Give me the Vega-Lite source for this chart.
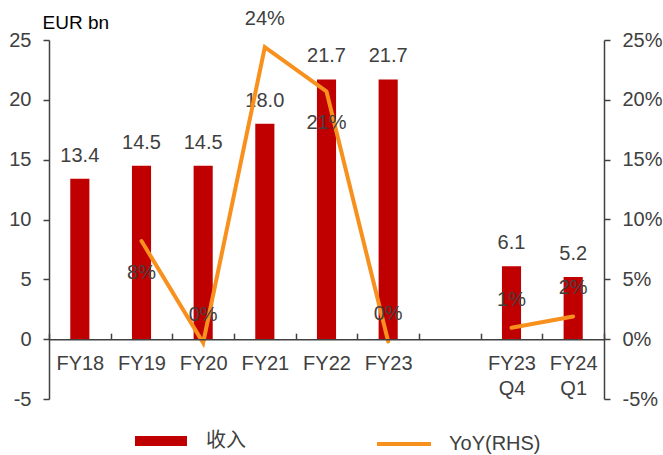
{
  "$schema": "https://vega.github.io/schema/vega-lite/v6.json",
  "width": 555,
  "height": 359,
  "autosize": {"type": "none"},
  "padding": {"left": 49, "top": 40, "right": 59, "bottom": 56},
  "background": "white",
  "config": {
    "view": {"stroke": null},
    "font": "Liberation Sans",
    "axis": {
      "grid": false,
      "labelFont": "Liberation Sans",
      "labelFontSize": 20,
      "labelColor": "#404040",
      "domainColor": "#404040",
      "tickColor": "#404040",
      "domainWidth": 1.5,
      "tickWidth": 1.5,
      "tickSize": 6,
      "labelPadding": 12
    },
    "legend": {"labelFont": "Liberation Sans", "labelFontSize": 20, "labelColor": "#404040", "padding": 0}
  },
  "data": {
    "values": [
      {"cat": "FY18", "value": 13.4, "yoy": null, "yoyLabel": null, "grp": "annual"},
      {"cat": "FY19", "value": 14.5, "yoy": 0.082, "yoyLabel": "8%", "grp": "annual"},
      {"cat": "FY20", "value": 14.5, "yoy": -0.003, "yoyLabel": "0%", "grp": "annual"},
      {"cat": "FY21", "value": 18.0, "yoy": 0.244, "yoyLabel": "24%", "grp": "annual"},
      {"cat": "FY22", "value": 21.7, "yoy": 0.207, "yoyLabel": "21%", "grp": "annual"},
      {"cat": "FY23", "value": 21.7, "yoy": -0.002, "yoyLabel": "0%", "grp": "annual"},
      {"cat": "FY23 Q4", "value": 6.1, "yoy": 0.0095, "yoyLabel": "1%", "grp": "quarter"},
      {"cat": "FY24 Q1", "value": 5.2, "yoy": 0.019, "yoyLabel": "2%", "grp": "quarter"}
    ]
  },
  "encoding": {
    "x": {
      "field": "cat",
      "type": "nominal",
      "sort": null,
      "scale": {
        "type": "band",
        "domain": ["FY18", "FY19", "FY20", "FY21", "FY22", "FY23", " ", "FY23 Q4", "FY24 Q1"],
        "paddingInner": 0,
        "paddingOuter": 0
      },
      "axis": {
        "orient": "top",
        "title": null,
        "offset": -299.17,
        "labelAngle": 0,
        "ticks": true,
        "tickBand": "extent",
        "tickSize": 6,
        "labelPadding": -20,
        "labelBaseline": "top",
        "labelLineHeight": 25,
        "zindex": 1,
        "labelExpr": "split(datum.label, ' ')"
      }
    }
  },
  "layer": [
    {
      "layer": [
        {
          "mark": {"type": "bar", "width": {"band": 0.31}},
          "encoding": {
            "y": {
              "field": "value",
              "type": "quantitative",
              "scale": {"domain": [-5, 25], "nice": false, "zero": false},
              "axis": {
                "values": [-5, 0, 5, 10, 15, 20, 25],
                "labelExpr": "replace(datum.label, '−', '-')",
                "title": "EUR bn",
                "titleAngle": 0,
                "titleAlign": "left",
                "titleBaseline": "middle",
                "titleX": -7,
                "titleY": -18,
                "titleFont": "Liberation Sans",
                "titleFontSize": 19,
                "titleFontWeight": "normal",
                "titleColor": "#000000"
              }
            },
            "fill": {
              "datum": "收入",
              "scale": {"range": ["#C00000"]},
              "legend": {
                "title": null,
                "orient": "none",
                "legendX": 86,
                "legendY": 375,
                "symbolType": "M-1,-0.19H1V0.19H-1Z",
                "symbolSize": 2704,
                "symbolStrokeWidth": 0,
                "labelOffset": 19,
                "labelFont": "Noto Sans CJK SC"
              }
            }
          }
        },
        {
          "mark": {"type": "text", "baseline": "middle", "dy": -23, "fontSize": 20, "color": "#404040", "font": "Liberation Sans"},
          "encoding": {
            "y": {"field": "value", "type": "quantitative"},
            "text": {"field": "value", "type": "quantitative", "format": ".1f"}
          }
        }
      ]
    },
    {
      "transform": [{"filter": "datum.yoy != null"}],
      "layer": [
        {
          "mark": {"type": "line", "strokeWidth": 4, "strokeCap": "round"},
          "encoding": {
            "y": {
              "field": "yoy",
              "type": "quantitative",
              "scale": {"domain": [-0.05, 0.25], "nice": false, "zero": false},
              "axis": {
                "orient": "right",
                "title": null,
                "format": ".0%",
                "labelExpr": "replace(datum.label, '−', '-')",
                "values": [-0.05, 0, 0.05, 0.1, 0.15, 0.2, 0.25]
              }
            },
            "detail": {"field": "grp"},
            "stroke": {
              "datum": "YoY(RHS)",
              "scale": {"range": ["#F8901E"]},
              "legend": {
                "title": null,
                "orient": "none",
                "legendX": 326,
                "legendY": 375,
                "symbolType": "stroke",
                "symbolSize": 2916,
                "symbolStrokeWidth": 4,
                "labelOffset": 16
              }
            }
          }
        },
        {
          "transform": [{"filter": "datum.cat != 'FY19' && datum.cat != 'FY22'"}],
          "mark": {"type": "text", "baseline": "middle", "dy": -28, "fontSize": 20, "color": "#404040", "font": "Liberation Sans"},
          "encoding": {
            "y": {"field": "yoy", "type": "quantitative"},
            "text": {"field": "yoyLabel"}
          }
        },
        {
          "transform": [{"filter": "datum.cat == 'FY19' || datum.cat == 'FY22'"}],
          "mark": {"type": "text", "baseline": "middle", "dy": 32, "fontSize": 20, "color": "#404040", "font": "Liberation Sans"},
          "encoding": {
            "y": {"field": "yoy", "type": "quantitative"},
            "text": {"field": "yoyLabel"}
          }
        }
      ]
    }
  ],
  "resolve": {"scale": {"y": "independent"}, "axis": {"y": "independent"}}
}
